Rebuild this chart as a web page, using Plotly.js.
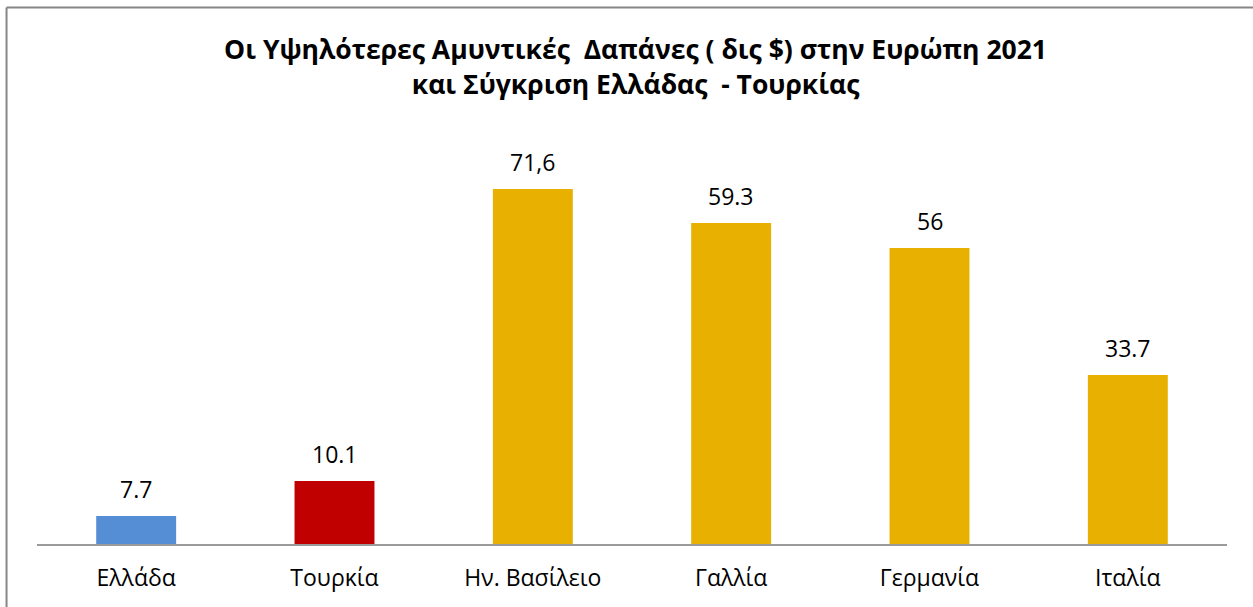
<!DOCTYPE html>
<html>
<head>
<meta charset="utf-8">
<script src="https://cdn.plot.ly/plotly-3.0.1.min.js"></script>
<style>
html,body{margin:0;padding:0;background:#fff;}
#chart{width:1253px;height:607px;}
</style>
</head>
<body>
<div id="chart"></div>
<script>
// Categories and bar heights
const categories = ["Ελλάδα", "Τουρκία", "Ην. Βασίλειο", "Γαλλία", "Γερμανία", "Ιταλία"];
const values = [5.6, 12.6, 71.0, 64.2, 59.2, 33.8];
// Data labels as printed on the chart
const labels = ["7.7", "10.1", "71,6", "59.3", "56", "33.7"];
const colors = ["#558ed5", "#c00000", "#e8b000", "#e8b000", "#e8b000", "#e8b000"];

const FONT = "Open Sans, Noto Sans, sans-serif";

const trace = {
  type: "bar",
  x: categories,
  y: values,
  marker: {color: colors, line: {width: 0}},
  hoverinfo: "x+y",
  showlegend: false
};

const annotations = categories.map((c, i) => ({
  x: c, y: values[i], xref: "x", yref: "y",
  text: labels[i], showarrow: false,
  yanchor: "bottom", yshift: 9,
  font: {family: FONT, size: 23, color: "#000"}
}));

const layout = {
  width: 1253, height: 607,
  margin: {l: 37, r: 26, t: 130, b: 63},
  paper_bgcolor: "#ffffff",
  plot_bgcolor: "#ffffff",
  bargap: 0.597,
  title: {
    text: "<b>Οι Υψηλότερες Αμυντικές  Δαπάνες ( δις $) στην Ευρώπη 2021</b><br><b>και Σύγκριση Ελλάδας  - Τουρκίας</b>",
    font: {family: FONT, size: 26.5, color: "#000"},
    x: 0.503, xanchor: "center", xref: "paper", yref: "container", y: 0.902, yanchor: "top"
  },
  xaxis: {
    type: "category",
    showline: true, linecolor: "#9a9a9a", linewidth: 2,
    ticks: "outside", ticklen: 12, tickcolor: "rgba(0,0,0,0)",
    showgrid: false, zeroline: false,
    tickfont: {family: FONT, size: 23, color: "#000"},
    fixedrange: true
  },
  yaxis: {
    range: [0, 82.8], visible: false, showgrid: false, zeroline: false, fixedrange: true
  },
  annotations: annotations,
  shapes: [
    {type: "line", xref: "paper", yref: "paper", x0: -0.0256, x1: -0.0256, y0: -0.2, y1: 1.296, line: {color: "#868686", width: 2}},
    {type: "line", xref: "paper", yref: "paper", x0: -0.0256, x1: 1.03, y0: 1.296, y1: 1.296, line: {color: "#868686", width: 2}}
  ]
};

Plotly.newPlot("chart", [trace], layout, {displayModeBar: false, staticPlot: true});
</script>
</body>
</html>
